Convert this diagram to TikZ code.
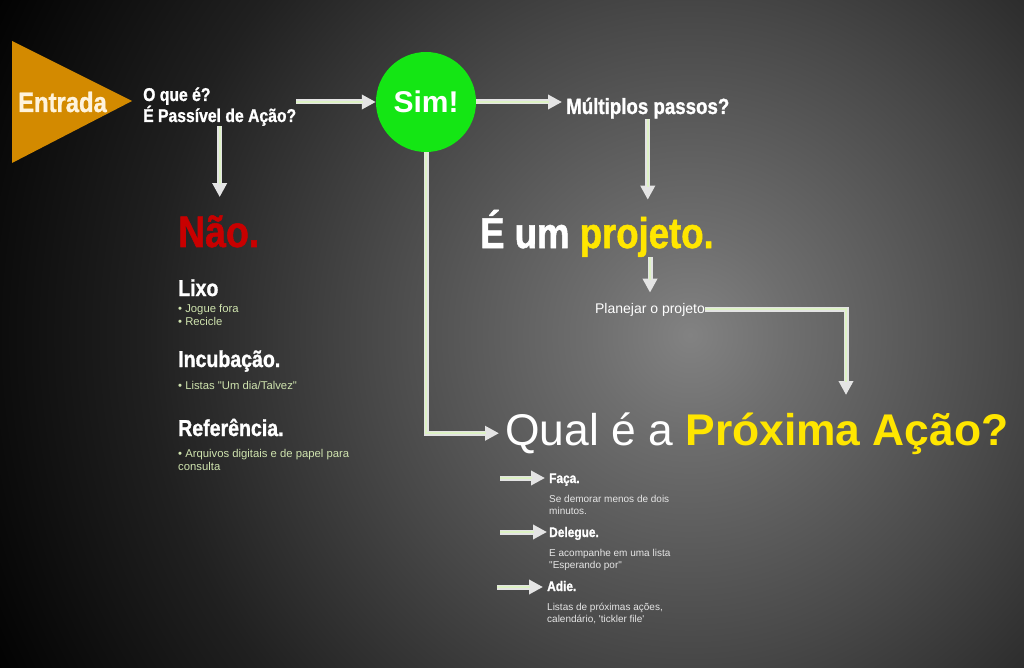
\documentclass[tikz,border=0pt]{standalone}
\usepackage{fontspec}
\setmainfont{Liberation Sans}
\newfontfamily\lsfont{Liberation Sans}
\newfontfamily\condfont[FakeStretch=0.85,FakeBold=1.2]{Liberation Sans}
\usetikzlibrary{arrows.meta}
\definecolor{entradaorange}{HTML}{D38A00}
\definecolor{entradacream}{HTML}{FFF3DC}
\definecolor{simgreen}{HTML}{14E614}
\definecolor{naored}{HTML}{C80000}
\definecolor{projyellow}{HTML}{FFE600}
\definecolor{setagray}{HTML}{E4E4E4}
\definecolor{setagreen}{HTML}{DDF2C4}
\definecolor{bulletgreen}{HTML}{CFE3AE}
\definecolor{notagray}{HTML}{E6E6E6}
\definecolor{fundo0}{HTML}{828282}
\definecolor{fundo1}{HTML}{6E6E6E}
\definecolor{fundo2}{HTML}{484848}
\definecolor{fundo3}{HTML}{202020}
\pgfdeclareradialshading{fundo}{\pgfpointorigin}{color(0bp)=(fundo0); color(100bp)=(fundo1); color(320bp)=(fundo2); color(540bp)=(fundo3); color(780bp)=(black); color(800bp)=(black)}
\tikzset{
  seta/.style={draw=setagray, line width=5pt, shorten >=#1, -{Triangle[length=14pt,width=14pt]},
    postaction={draw=setagreen, line width=2pt, shorten >=#1+13pt, -}},
  seta/.default=0pt,
  titulo/.style={font=\condfont\bfseries\fontsize{#1}{#1}\selectfont, text=white, inner sep=0pt, anchor=base west},
  item/.style={font=\lsfont\fontsize{11.3}{12.3}\selectfont, text=bulletgreen, inner sep=0pt, anchor=base west, align=left},
  nota/.style={font=\lsfont\fontsize{10}{11.5}\selectfont, text=notagray, inner sep=0pt, anchor=base west, align=left},
}
\begin{document}
\begin{tikzpicture}[x=1pt,y=-1pt]
\useasboundingbox (0,0) rectangle (1024,668);
\begin{scope}
\clip (0,0) rectangle (1024,668);
\node[inner sep=0pt] (fundo) at (690,335) {\pgfuseshading{fundo}};
\end{scope}

\fill[entradaorange] (12,41) -- (132,101) -- (12,163) -- cycle;
\node[titulo=28, text=entradacream] (entrada) at (18,112) {Entrada};
\node[titulo=18.5, align=left, font=\condfont\bfseries\fontsize{18.5}{21}\selectfont] (pergunta) at (143,122) {O que é?\\É Passível de Ação?};
\node[circle, fill=simgreen, minimum size=100pt, inner sep=0pt, font=\lsfont\bfseries\fontsize{30}{30}\selectfont, text=white] (sim) at (426,102) {Sim!};
\node[titulo=22] (multiplos) at (566,114) {Múltiplos passos?};
\node[titulo=44, text=naored] (nao) at (178,247) {Não.};
\node[titulo=43] (projeto) at (480,248) {É um \textcolor{projyellow}{projeto.}};
\node[anchor=base, inner sep=0pt, font=\lsfont\fontsize{14}{14}\selectfont, text=white] (planejar) at (650,313) {Planejar o projeto};

\node[titulo=23] (lixo) at (178,296) {Lixo};
\node[item] (lixoitens) at (178,325) {• Jogue fora\\• Recicle};
\node[titulo=23] (incubacao) at (178,367) {Incubação.};
\node[item] (incubacaoitens) at (178,389) {• Listas "Um dia/Talvez"};
\node[titulo=23] (referencia) at (178,436) {Referência.};
\node[item] (referenciaitens) at (178,470) {• Arquivos digitais e de papel para\\consulta};

\node[anchor=base west, inner sep=0pt, font=\lsfont\fontsize{44.4}{44.4}\selectfont, text=white] (qual) at (505,445) {Qual é a \textcolor{projyellow}{\bfseries Próxima Ação?}};

\node[titulo=14] (faca) at (549,483) {Faça.};
\node[nota] (facanota) at (549,514) {Se demorar menos de dois\\minutos.};
\node[titulo=14] (delegue) at (549,537) {Delegue.};
\node[nota] (deleguenota) at (549,568) {E acompanhe em uma lista\\"Esperando por"};
\node[titulo=14] (adie) at (547,591) {Adie.};
\node[nota] (adienota) at (547,622) {Listas de próximas ações,\\calendário, 'tickler file'};

\coordinate (qualtopo) at (846,395);
\coordinate (facain) at (500,478);
\coordinate (deleguein) at (500,532);
\coordinate (adiein) at (497,587);

\draw[seta] (pergunta.east |- sim.west) -- (sim.west);
\draw[seta=18pt] (pergunta.south) -- (pergunta.south |- nao.north);
\draw[seta=4pt] (sim.east) -- (sim.east -| multiplos.west);
\draw[seta=10pt] (multiplos.south) -- (multiplos.south |- projeto.north);
\draw[seta=10pt] (planejar.north |- projeto.south) -- (planejar.north);
\draw[seta] (planejar.east) -| (qualtopo);
\draw[seta=6pt] (sim.south) |- (qual.west);
\draw[seta=4pt] (facain) -- (facain -| faca.west);
\draw[seta=2pt] (deleguein) -- (deleguein -| delegue.west);
\draw[seta=4pt] (adiein) -- (adiein -| adie.west);
\end{tikzpicture}
\end{document}
